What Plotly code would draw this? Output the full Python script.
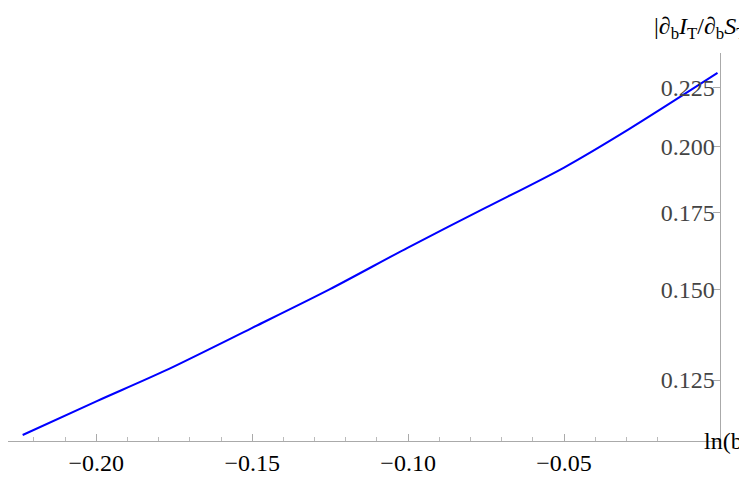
import plotly.graph_objects as go

# values (ln(b) vs |dI/dS|), log-scaled y
lnb = [-0.2236, -0.1998, -0.1781, -0.1503, -0.1252, -0.1002, -0.0751, -0.050, -0.0293, -0.0008]
ratio = [0.1119, 0.1198, 0.1273, 0.1387, 0.1500, 0.1631, 0.1768, 0.1917, 0.2070, 0.2319]
ytick_vals = [0.125, 0.150, 0.175, 0.200, 0.225]
ytick_text = ["0.125", "0.150", "0.175", "0.200", "0.225"]
xtick_vals = [-0.20, -0.15, -0.10, -0.05]
xtick_text = ["\u22120.20", "\u22120.15", "\u22120.10", "\u22120.05"]

font = dict(family="Liberation Serif", size=24, color="black")

fig = go.Figure(go.Scatter(x=lnb, y=ratio, mode="lines",
                           line=dict(color="#0000ff", width=2, shape="spline", smoothing=0.8)))

fig.update_layout(
    width=747, height=495, margin=dict(l=0, r=35, t=45, b=62),
    paper_bgcolor="white", plot_bgcolor="white", showlegend=False, font=font,
    xaxis=dict(range=[-0.2283, 0.0], showgrid=False, zeroline=False, showline=True,
               linecolor="#aaaaaa", ticks="inside", ticklen=7, tickcolor="#aaaaaa",
               tickvals=xtick_vals, ticktext=xtick_text,
               minor=dict(ticks="inside", ticklen=4, dtick=0.01, tick0=0, tickcolor="#bbbbbb")),
    yaxis=dict(type="log", range=[-0.9564, -0.6173], side="right", showgrid=False,
               zeroline=False, showline=True, linecolor="#aaaaaa", ticks="inside",
               ticklen=7, tickcolor="#aaaaaa", ticklabelposition="inside",
               tickvals=ytick_vals, ticktext=ytick_text),
    annotations=[
        dict(text="|\u2202<sub>b</sub><i>I</i><sub>T</sub>/\u2202<sub>b</sub><i>S</i><sub>T</sub>|",
             xref="paper", yref="paper", x=1.047, y=1.02, xanchor="right", yanchor="bottom",
             showarrow=False, font=font),
        dict(text="ln(b)", xref="paper", yref="paper", x=1.047, y=0.0,
             xanchor="right", yanchor="middle", showarrow=False, font=font),
    ],
)

fig.write_html("out.html")
